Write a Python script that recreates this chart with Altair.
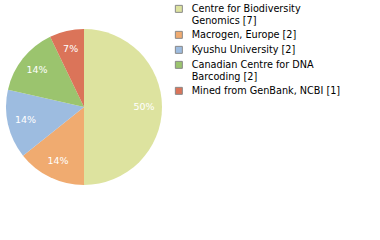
import altair as alt
import pandas as pd

legend_labels = [
    "Centre for Biodiversity\nGenomics [7]",
    "Macrogen, Europe [2]",
    "Kyushu University [2]",
    "Canadian Centre for DNA\nBarcoding [2]",
    "Mined from GenBank, NCBI [1]",
]
counts = [7, 2, 2, 2, 1]
colors = ["#dde39f", "#f0ab70", "#9dbce0", "#9bc46e", "#db7459"]

total = sum(counts)
df = pd.DataFrame({
    "label": legend_labels,
    "count": counts,
    "order": list(range(len(counts))),
    "pct": [f"{round(c / total * 100)}%" for c in counts],
})

base = alt.Chart(df).encode(
    theta=alt.Theta("count:Q", stack=True),
    order=alt.Order("order:Q"),
)

arcs = base.mark_arc(outerRadius=78).encode(
    color=alt.Color(
        "label:N",
        scale=alt.Scale(domain=legend_labels, range=colors),
        legend=alt.Legend(
            title=None,
            orient="none",
            legendX=174,
            legendY=4,
            padding=0,
            symbolType="square",
            symbolSize=49,
            symbolStrokeColor="#888888",
            symbolStrokeWidth=1,
            symbolOpacity=1,
            labelFont="DejaVu Sans",
            labelFontSize=9.7,
            labelColor="#000000",
            labelOffset=8,
            labelLimit=300,
            rowPadding=3,
            labelExpr="split(datum.label, '\\n')",
        ),
    )
)

texts = base.mark_text(
    radius=60, font="DejaVu Sans", fontSize=9.5
).encode(text="pct:N", color=alt.value("white"))

chart = (arcs + texts).properties(
    width=168,
    height=214,
    autosize=alt.AutoSizeParams(type="none"),
    padding={"left": 0, "top": 0, "right": 212, "bottom": 26},
).configure(
    view=alt.ViewConfig(stroke=None),
    style={"guide-label": {"lineHeight": 11.8}},
)

chart.save("out.html", embed_options={"renderer": "svg", "actions": False})
